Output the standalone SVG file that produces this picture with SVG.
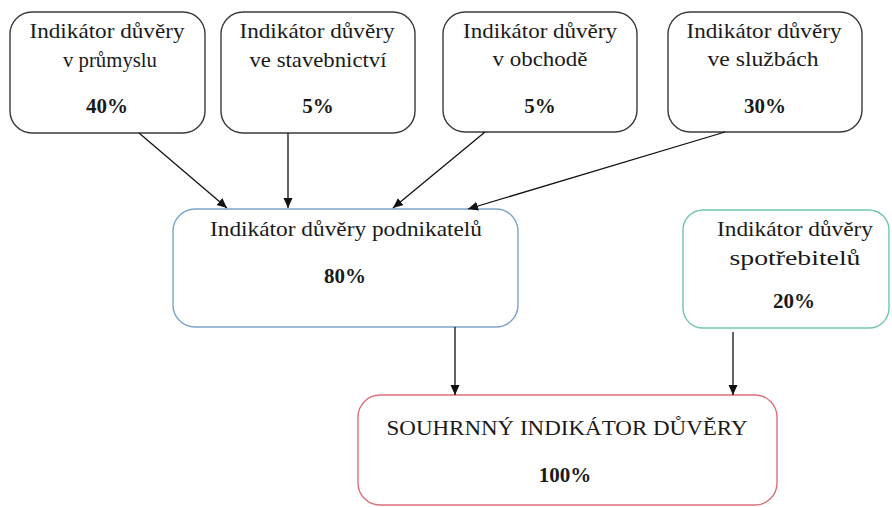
<svg xmlns="http://www.w3.org/2000/svg" width="892" height="507" viewBox="0 0 892 507">
<style>
  .box{fill:#ffffff;stroke-width:1.4}
  .gray{stroke:#3a3a3a}
  .blue{stroke:#7ba4c8}
  .green{stroke:#72c7a6}
  .red{stroke:#de6f7d}
  text{font-family:"Liberation Serif","Times New Roman",serif;font-size:21px;fill:#1a1a1a;text-anchor:middle}
  .pct{font-weight:bold}
  .conn line{stroke:#111;stroke-width:1.3;marker-end:url(#ah)}
</style>
<defs>
  <marker id="ah" viewBox="0 0 10 10" refX="10" refY="5" markerWidth="10" markerHeight="10" markerUnits="userSpaceOnUse" orient="auto">
    <path d="M0,0.5 L10,5 L0,9.5 Z" fill="#111"/>
  </marker>
</defs>
<rect width="892" height="507" fill="#ffffff"/>

<g id="n-prumysl">
  <rect class="box gray" x="10" y="12" width="195" height="121" rx="22"/>
  <text x="107" y="38" textLength="155" lengthAdjust="spacingAndGlyphs">Indikátor důvěry</text>
  <text x="110" y="67" textLength="94" lengthAdjust="spacingAndGlyphs">v průmyslu</text>
  <text class="pct" x="107" y="113">40%</text>
</g>
<g id="n-stavebnictvi">
  <rect class="box gray" x="221" y="12" width="194" height="121" rx="22"/>
  <text x="317" y="38" textLength="155" lengthAdjust="spacingAndGlyphs">Indikátor důvěry</text>
  <text x="318" y="67" textLength="137" lengthAdjust="spacingAndGlyphs">ve stavebnictví</text>
  <text class="pct" x="318" y="113">5%</text>
</g>
<g id="n-obchod">
  <rect class="box gray" x="443" y="12" width="194" height="120" rx="22"/>
  <text x="540" y="38" textLength="154" lengthAdjust="spacingAndGlyphs">Indikátor důvěry</text>
  <text x="540" y="66" textLength="95" lengthAdjust="spacingAndGlyphs">v obchodě</text>
  <text class="pct" x="540" y="113">5%</text>
</g>
<g id="n-sluzby">
  <rect class="box gray" x="668" y="12" width="194" height="120" rx="22"/>
  <text x="764" y="38" textLength="155" lengthAdjust="spacingAndGlyphs">Indikátor důvěry</text>
  <text x="763" y="66" textLength="111" lengthAdjust="spacingAndGlyphs">ve službách</text>
  <text class="pct" x="765" y="113">30%</text>
</g>
<g id="n-podnikatele">
  <rect class="box blue" x="173" y="209" width="345" height="118" rx="22"/>
  <text x="346" y="236" textLength="272" lengthAdjust="spacingAndGlyphs">Indikátor důvěry podnikatelů</text>
  <text class="pct" x="345" y="283">80%</text>
</g>
<g id="n-spotrebitele">
  <rect class="box green" x="683" y="210" width="206" height="118" rx="20"/>
  <text x="795" y="236" textLength="156" lengthAdjust="spacingAndGlyphs">Indikátor důvěry</text>
  <text x="795" y="265" textLength="131" lengthAdjust="spacingAndGlyphs">spotřebitelů</text>
  <text class="pct" x="794" y="308">20%</text>
</g>
<g id="n-souhrnny">
  <rect class="box red" x="358" y="395" width="419" height="110" rx="22"/>
  <text x="567" y="435" textLength="361" lengthAdjust="spacingAndGlyphs">SOUHRNNÝ INDIKÁTOR DŮVĚRY</text>
  <text class="pct" x="565" y="482">100%</text>
</g>

<g id="connectors" class="conn">
  <line x1="139" y1="133" x2="227" y2="208"/>
  <line x1="288" y1="133" x2="288" y2="208"/>
  <line x1="485" y1="132" x2="393" y2="208"/>
  <line x1="725" y1="132" x2="468" y2="209"/>
  <line x1="455" y1="327" x2="455" y2="395"/>
  <line x1="733" y1="332" x2="733" y2="395"/>
</g>
</svg>
